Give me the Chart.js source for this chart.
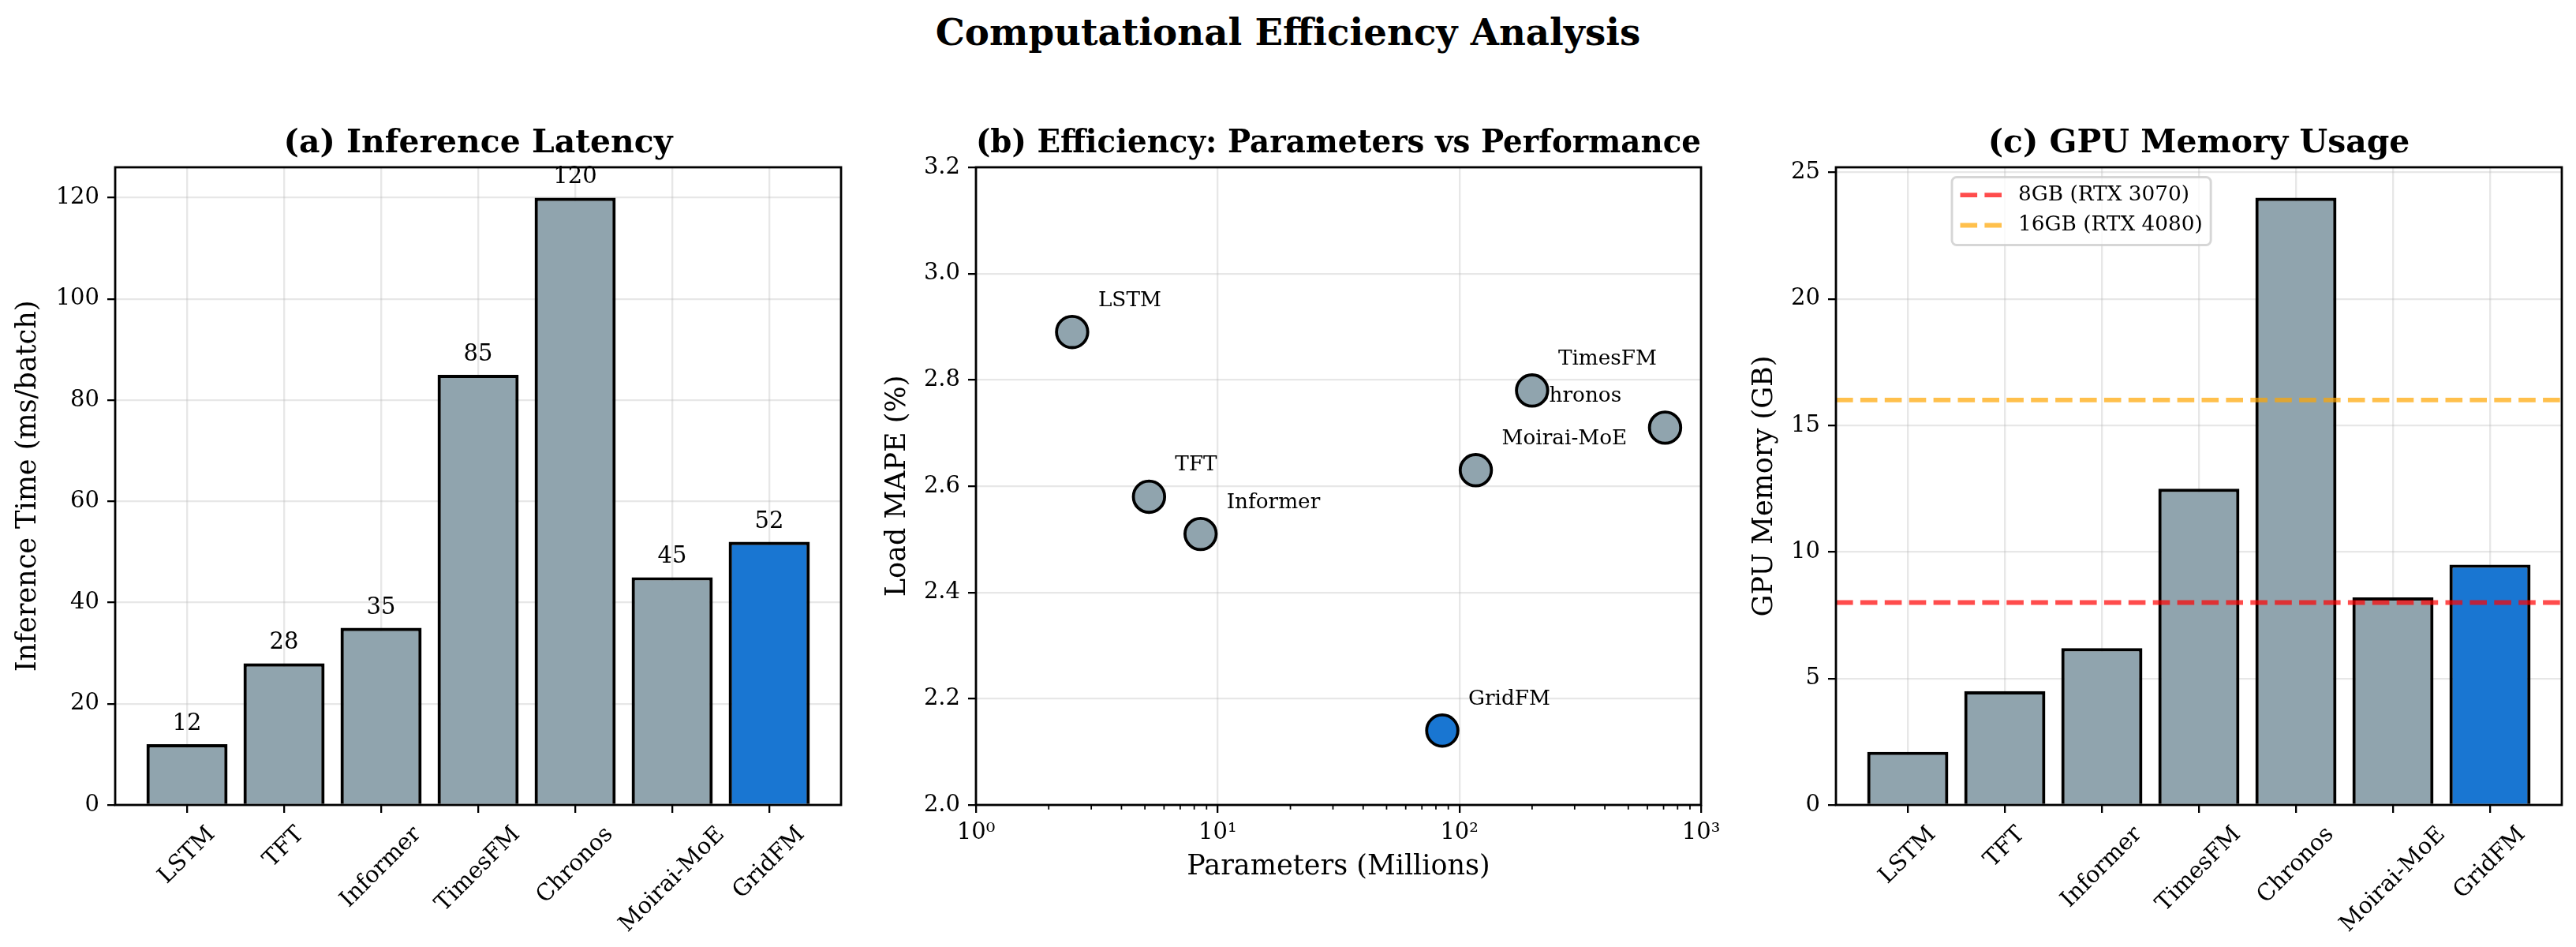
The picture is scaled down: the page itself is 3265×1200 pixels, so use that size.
<!DOCTYPE html>
<html>
<head>
<meta charset="utf-8">
<title>Computational Efficiency Analysis</title>
<script src="https://cdn.jsdelivr.net/npm/chart.js@4.4.1/dist/chart.umd.min.js"></script>
<style>
  html, body { margin: 0; padding: 0; background: #fff; }
  body { width: 3265px; height: 1200px; position: relative; overflow: hidden; }
  .suptitle {
    position: absolute; left: 0; top: 18px; width: 3265px;
    text-align: center; color: #000;
    font: bold 46.7px/1 "DejaVu Serif", serif;
  }
  .panel { position: absolute; top: 0; height: 1200px; }
</style>
</head>
<body>
<div class="suptitle">Computational Efficiency Analysis</div>
<div class="panel" style="left:0;width:1100px"><canvas id="latency"></canvas></div>
<div class="panel" style="left:1100px;width:1100px"><canvas id="efficiency"></canvas></div>
<div class="panel" style="left:2200px;width:1065px"><canvas id="memory"></canvas></div>

<script>
// data
const models = ['LSTM', 'TFT', 'Informer', 'TimesFM', 'Chronos', 'Moirai-MoE', 'GridFM'];
const latencyMs = [12, 28, 35, 85, 120, 45, 52];
const paramsMillions = [2.5, 5.2, 8.5, 200, 710, 117, 85];
const loadMape = [2.89, 2.58, 2.51, 2.78, 2.71, 2.63, 2.14];
const memoryGB = [2.1, 4.5, 6.2, 12.5, 24.0, 8.2, 9.5];
const gpuLimitGB = [8, 16];
const gpuLimitNames = ['8GB (RTX 3070)', '16GB (RTX 4080)'];

const latencyTicks = [0, 20, 40, 60, 80, 100, 120];
const mapeTicks = [2.0, 2.2, 2.4, 2.6, 2.8, 3.0, 3.2];
const paramTicks = [1, 10, 100, 1000];
const memoryTicks = [0, 5, 10, 15, 20, 25];

// styles
const SERIF = '"DejaVu Serif", "Liberation Serif", serif';
const GREY = '#90A4AE';
const BLUE = '#1976D2';
const GRID = 'rgba(176,176,176,0.3)';
const LIMIT_COLORS = ['rgba(255,0,0,0.7)', 'rgba(255,165,0,0.7)'];
const X_MIN = -0.74, X_MAX = 6.74;
const TICK_PX = 29, NOTE_PX = 26.3, LABEL_PX = 35;
const NAME_OFFSET = { default: [33, -33], Chronos: [-167, -33] };
const SUP = ['\u2070', '\u00b9', '\u00b2', '\u00b3'];

const barColors = models.map(m => m === 'GridFM' ? BLUE : GREY);
const modelIndex = models.map((m, i) => i);

Chart.defaults.font.family = SERIF;
Chart.defaults.color = '#000';
Chart.defaults.animation = false;

const tickFont = { family: SERIF, size: TICK_PX };
const fixedTicks = values => scale => { scale.ticks = values.map(v => ({ value: v })); };

const gridOpts = () => ({
  offset: false,
  color: GRID, lineWidth: 2.3,
  drawTicks: true, tickLength: 10, tickColor: '#000', tickWidth: 2.3
});

const panelTitle = text => ({
  display: true, text, fullSize: false, color: '#000',
  font: { family: SERIF, size: 40.9, weight: 'bold' },
  padding: { top: 157.5, bottom: 5.4 }
});

const axisTitle = (text, pad) => ({
  display: true, text, color: '#000',
  font: { family: SERIF, size: LABEL_PX },
  padding: pad
});

// black box round the plot area
const frame = {
  id: 'frame',
  afterDraw(chart) {
    const { ctx, chartArea: a } = chart;
    ctx.save();
    ctx.strokeStyle = '#000';
    ctx.lineWidth = 2.8;
    ctx.strokeRect(a.left, a.top, a.right - a.left, a.bottom - a.top);
    ctx.restore();
  }
};

// 45 degree category names, centred under the tick like matplotlib
const slantedNames = {
  id: 'slantedNames',
  afterDraw(chart) {
    const { ctx, chartArea: a, scales: { x } } = chart;
    ctx.save();
    ctx.font = `${TICK_PX}px ${SERIF}`;
    ctx.fillStyle = '#000';
    ctx.textAlign = 'center';
    ctx.textBaseline = 'middle';
    const top = a.bottom + 21;
    const lh = TICK_PX * 1.17;
    models.forEach((m, i) => {
      const w = ctx.measureText(m).width;
      const half = (w + lh) / (2 * Math.SQRT2);
      ctx.save();
      ctx.translate(x.getPixelForValue(i), top + half);
      ctx.rotate(-Math.PI / 4);
      ctx.fillText(m, 0, 0);
      ctx.restore();
    });
    ctx.restore();
  }
};

const valueLabels = {
  id: 'valueLabels',
  afterDraw(chart) {
    const { ctx, scales: { x, y } } = chart;
    ctx.save();
    ctx.font = `${TICK_PX}px ${SERIF}`;
    ctx.fillStyle = '#000';
    ctx.textAlign = 'center';
    ctx.textBaseline = 'alphabetic';
    latencyMs.forEach((v, i) => {
      ctx.fillText(String(v), x.getPixelForValue(i), y.getPixelForValue(v) - 18);
    });
    ctx.restore();
  }
};

// model names beside the scatter points (drawn under the markers)
const pointNames = {
  id: 'pointNames',
  beforeDatasetsDraw(chart) {
    const { ctx, scales: { x, y } } = chart;
    ctx.save();
    ctx.font = `${NOTE_PX}px ${SERIF}`;
    ctx.fillStyle = '#000';
    ctx.textAlign = 'left';
    ctx.textBaseline = 'alphabetic';
    models.forEach((m, i) => {
      const [dx, dy] = NAME_OFFSET[m] || NAME_OFFSET.default;
      ctx.fillText(m, x.getPixelForValue(paramsMillions[i]) + dx, y.getPixelForValue(loadMape[i]) + dy);
    });
    ctx.restore();
  }
};

// minor ticks of the log axis
const minorTicks = {
  id: 'minorTicks',
  afterDraw(chart) {
    const { ctx, chartArea: a, scales: { x } } = chart;
    ctx.save();
    ctx.strokeStyle = '#000';
    ctx.lineWidth = 1.75;
    for (let d = 1; d < 1000; d *= 10) {
      for (let k = 2; k < 10; k++) {
        const px = x.getPixelForValue(d * k);
        ctx.beginPath();
        ctx.moveTo(px, a.bottom);
        ctx.lineTo(px, a.bottom + 5.8);
        ctx.stroke();
      }
    }
    ctx.restore();
  }
};

const limitLegend = {
  id: 'limitLegend',
  afterDraw(chart) {
    const { ctx, chartArea: a } = chart;
    const pad = 10.5, handle = 52.6, gap = 21, r = 6;
    ctx.save();
    ctx.font = `${NOTE_PX}px ${SERIF}`;
    const textW = Math.max(...gpuLimitNames.map(t => ctx.measureText(t).width));
    const x = a.left + 147, y = a.top + 12.5;
    const w = pad + handle + gap + textW + pad, h = 86;
    ctx.beginPath();
    ctx.moveTo(x + r, y);
    ctx.arcTo(x + w, y, x + w, y + h, r);
    ctx.arcTo(x + w, y + h, x, y + h, r);
    ctx.arcTo(x, y + h, x, y, r);
    ctx.arcTo(x, y, x + w, y, r);
    ctx.closePath();
    ctx.fillStyle = 'rgba(255,255,255,0.8)';
    ctx.fill();
    ctx.strokeStyle = 'rgba(204,204,204,0.8)';
    ctx.lineWidth = 2.9;
    ctx.stroke();
    gpuLimitNames.forEach((t, i) => {
      const cy = y + 22.7 + i * 38.3;
      ctx.setLineDash([21.6, 9.3]);
      ctx.lineWidth = 5.8;
      ctx.strokeStyle = LIMIT_COLORS[i];
      ctx.beginPath();
      ctx.moveTo(x + pad, cy);
      ctx.lineTo(x + pad + handle, cy);
      ctx.stroke();
      ctx.setLineDash([]);
      ctx.fillStyle = '#000';
      ctx.textAlign = 'left';
      ctx.textBaseline = 'middle';
      ctx.fillText(t, x + pad + handle + gap, cy);
    });
    ctx.restore();
  }
};

const baseOptions = (padRight) => ({
  responsive: true,
  maintainAspectRatio: false,
  devicePixelRatio: 1,
  events: [],
  layout: { padding: { left: 0, right: padRight, top: 0, bottom: 0 } }
});

function barDataset(values) {
  return {
    type: 'bar',
    data: values.map((v, i) => ({ x: i, y: v })),
    backgroundColor: barColors,
    borderColor: '#000',
    borderWidth: 4.2,
    borderSkipped: 'start',
    categoryPercentage: 1,
    barPercentage: 0.836,
    order: 1
  };
}

// linear x axis so the limits can be set like matplotlib's margins
function categoryAxis() {
  return {
    type: 'linear', min: X_MIN, max: X_MAX, z: 1, offset: false,
    grid: gridOpts(), border: { display: false },
    ticks: { display: false },
    afterBuildTicks: fixedTicks(modelIndex),
    afterFit: s => { s.height = 180; }
  };
}

// (a) inference latency
new Chart(document.getElementById('latency'), {
  type: 'bar',
  data: { datasets: [barDataset(latencyMs)] },
  options: {
    ...baseOptions(34),
    plugins: {
      legend: { display: false },
      tooltip: { enabled: false },
      title: panelTitle('(a) Inference Latency')
    },
    scales: {
      x: categoryAxis(),
      y: {
        type: 'linear', min: 0, max: 126, z: 1,
        grid: gridOpts(), border: { display: false },
        ticks: { font: tickFont, padding: 10, autoSkip: false, callback: v => String(v) },
        afterBuildTicks: fixedTicks(latencyTicks),
        afterFit: s => { s.width = 146; },
        title: axisTitle('Inference Time (ms/batch)', { top: 15, bottom: 0 })
      }
    }
  },
  plugins: [valueLabels, slantedNames, frame]
});

// (b) parameters vs performance
new Chart(document.getElementById('efficiency'), {
  type: 'scatter',
  data: {
    datasets: [{
      data: models.map((m, i) => ({ x: paramsMillions[i], y: loadMape[i] })),
      backgroundColor: barColors,
      borderColor: '#000',
      pointRadius: 19.8,
      pointHoverRadius: 19.8,
      pointBorderWidth: 3.8
    }]
  },
  options: {
    ...baseOptions(44),
    plugins: {
      legend: { display: false },
      tooltip: { enabled: false },
      title: panelTitle('(b) Efficiency: Parameters vs Performance')
    },
    scales: {
      x: {
        type: 'logarithmic', min: 1, max: 1000, offset: false,
        grid: gridOpts(), border: { display: false },
        ticks: {
          font: tickFont, padding: 8, maxRotation: 0, autoSkip: false,
          callback: v => '10' + SUP[Math.round(Math.log10(v))]
        },
        afterBuildTicks: fixedTicks(paramTicks),
        afterFit: s => { s.height = 180; },
        title: axisTitle('Parameters (Millions)', { top: 0, bottom: 80 })
      },
      y: {
        type: 'linear', min: 2.0, max: 3.2,
        grid: gridOpts(), border: { display: false },
        ticks: { font: tickFont, padding: 10, autoSkip: false, callback: v => v.toFixed(1) },
        afterBuildTicks: fixedTicks(mapeTicks),
        afterFit: s => { s.width = 137; },
        title: axisTitle('Load MAPE (%)', { top: 17, bottom: 0 })
      }
    }
  },
  plugins: [pointNames, minorTicks, frame]
});

// (c) GPU memory
new Chart(document.getElementById('memory'), {
  type: 'bar',
  data: {
    datasets: [
      barDataset(memoryGB),
      ...gpuLimitGB.map((g, i) => ({
        type: 'line',
        label: gpuLimitNames[i],
        data: [{ x: X_MIN, y: g }, { x: X_MAX, y: g }],
        borderColor: LIMIT_COLORS[i],
        borderWidth: 5.8,
        borderDash: [21.6, 9.3],
        pointRadius: 0,
        fill: false,
        order: 0
      }))
    ]
  },
  options: {
    ...baseOptions(18),
    plugins: {
      legend: { display: false },
      tooltip: { enabled: false },
      title: panelTitle('(c) GPU Memory Usage')
    },
    scales: {
      x: categoryAxis(),
      y: {
        type: 'linear', min: 0, max: 25.2, z: 1,
        grid: gridOpts(), border: { display: false },
        ticks: { font: tickFont, padding: 10, autoSkip: false, callback: v => String(v) },
        afterBuildTicks: fixedTicks(memoryTicks),
        afterFit: s => { s.width = 127; },
        title: axisTitle('GPU Memory (GB)', { top: 16, bottom: 0 })
      }
    }
  },
  plugins: [slantedNames, limitLegend, frame]
});
</script>
</body>
</html>
